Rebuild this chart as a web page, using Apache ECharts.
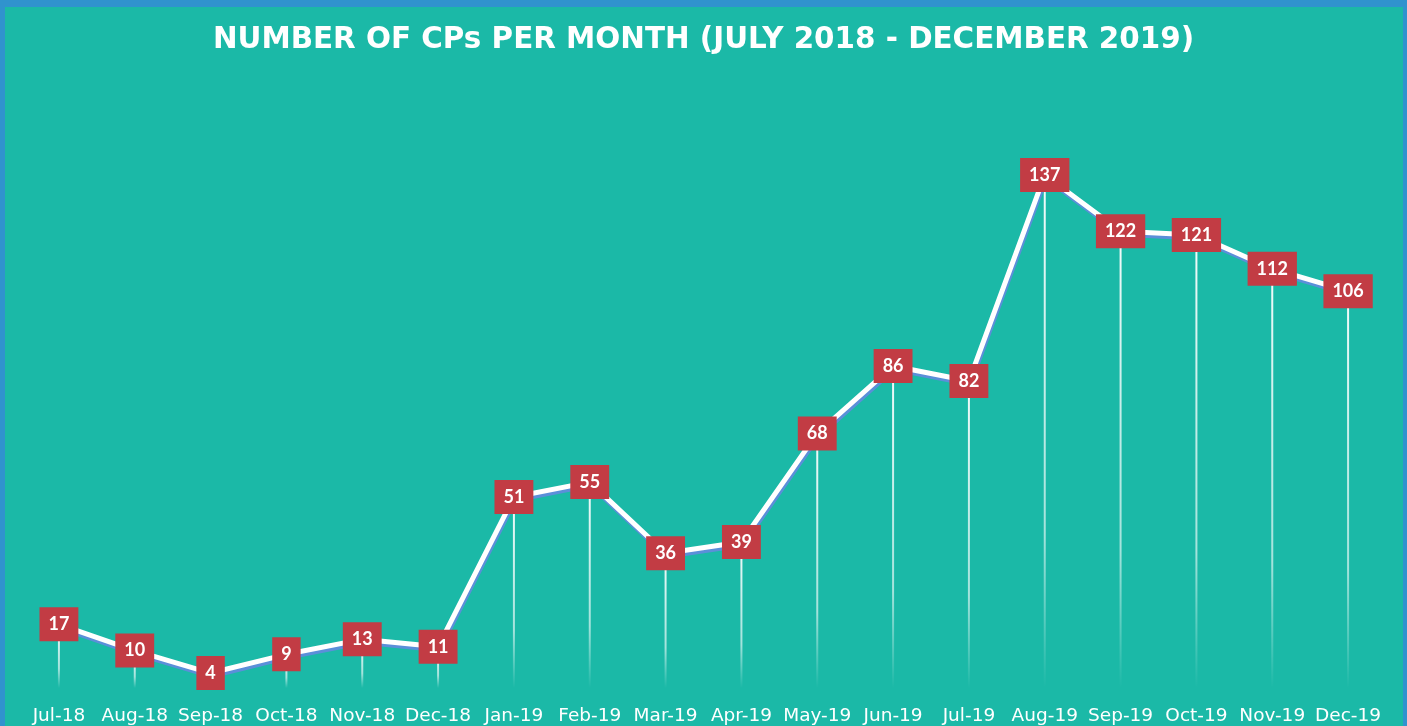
<!DOCTYPE html>
<html><head><meta charset="utf-8">
<script src="https://cdn.jsdelivr.net/npm/echarts@6/dist/echarts.min.js"></script>
<style>html,body{margin:0;padding:0;background:#1BB9A7;}#main{width:1407px;height:726px;}</style>
</head><body><div id="main"></div>
<script>
const categories = ['Jul-18','Aug-18','Sep-18','Oct-18','Nov-18','Dec-18','Jan-19','Feb-19','Mar-19','Apr-19','May-19','Jun-19','Jul-19','Aug-19','Sep-19','Oct-19','Nov-19','Dec-19'];
const cpValues = [17,10,4,9,13,11,51,55,36,39,68,86,82,137,122,121,112,106];
const titleText = 'NUMBER OF CPs PER MONTH (JULY 2018 - DECEMBER 2019)';

const chart = echarts.init(document.getElementById('main'), null, {renderer:'canvas'});
chart.setOption({
  backgroundColor: '#1BB9A7',
  animation: false,
  title: {
    text: titleText, left: 'center', top: 21,
    textStyle: {color:'#FFFFFF', fontSize: 29.4, fontWeight: 'bold', fontFamily: 'DejaVu Sans'}
  },
  graphic: [
    {type:'rect', left:0, top:0, shape:{width:1407, height:7}, style:{fill:'#3093CE'}, z:100},
    {type:'rect', left:0, top:0, shape:{width:5, height:726}, style:{fill:'#3093CE'}, z:100},
    {type:'rect', right:0, top:0, shape:{width:4, height:726}, style:{fill:'#3093CE'}, z:100}
  ],
  grid: {left: 21, right: 21, top: 89, bottom: 37},
  xAxis: {
    type: 'category', data: categories, boundaryGap: true,
    axisLine: {show:false}, axisTick: {show:false}, splitLine: {show:false},
    axisLabel: {color:'#FFFFFF', fontSize: 18.5, fontFamily: 'DejaVu Sans', margin: 19, interval: 0}
  },
  yAxis: {type:'value', min:0, max:160, show:false, splitLine:{show:false}},
  series: [
    {
      type: 'bar', data: cpValues, barWidth: 2, z: 1, silent: true,
      itemStyle: {color: new echarts.graphic.LinearGradient(0,0,0,1,[
        {offset:0, color:'rgba(255,255,255,0.95)'},
        {offset:0.7, color:'rgba(255,255,255,0.6)'},
        {offset:1, color:'rgba(255,255,255,0)'}
      ])}
    },
    {
      type: 'line', data: cpValues, z: 3,
      symbol: 'circle', symbolSize: 1, showSymbol: true,
      itemStyle: {color:'#FFFFFF'},
      lineStyle: {color:'#FFFFFF', width: 5, shadowColor:'#5B8FD9', shadowOffsetX: 1, shadowOffsetY: 3, shadowBlur: 0},
      label: {
        show: true, position: 'inside', color:'#FFFFFF', fontSize: 18, fontWeight: 'bold',
        fontFamily: 'Lato', backgroundColor:'#C23C44', padding: [8, 9, 8, 9]
      }
    }
  ]
});
</script></body></html>
